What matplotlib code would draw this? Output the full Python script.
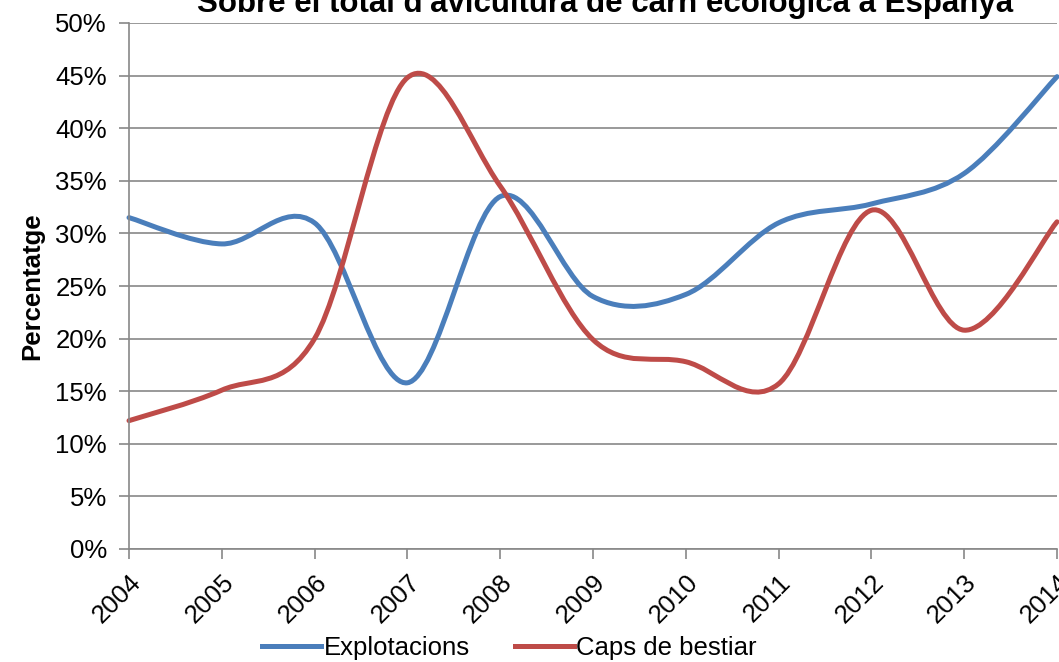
import numpy as np
import matplotlib.pyplot as plt
from matplotlib.path import Path
from matplotlib.patches import PathPatch
from matplotlib.lines import Line2D
from matplotlib.transforms import ScaledTranslation

plt.rcParams['font.family'] = ['Liberation Sans', 'DejaVu Sans']

anys = [2004, 2005, 2006, 2007, 2008, 2009, 2010, 2011, 2012, 2013, 2014]
explotacions = [31.5, 29.0, 31.0, 15.8, 33.5, 24.0, 24.2, 31.0, 32.8, 35.7, 44.9]
caps_bestiar = [12.2, 15.1, 20.0, 44.8, 34.5, 19.9, 17.8, 15.7, 32.2, 20.8, 31.1]

titol = "Sobre el total d'avicultura de carn ecològica a Espanya"


# corba suavitzada a l'estil Excel (Catmull-Rom com a Bezier)
def corba_suau(x, y):
    p = np.column_stack([x, y]).astype(float)
    n = len(p)
    verts = [p[0]]
    codes = [Path.MOVETO]
    for i in range(n - 1):
        p0 = p[i - 1] if i > 0 else p[i]
        p1 = p[i]
        p2 = p[i + 1]
        p3 = p[i + 2] if i + 2 < n else p[i + 1]
        c1 = p1 + (p2 - p0) / 6.0
        c2 = p2 - (p3 - p1) / 6.0
        verts += [c1, c2, p2]
        codes += [Path.CURVE4] * 3
    return Path(verts, codes)


fig = plt.figure(figsize=(10.59, 6.62), dpi=100)
ax = fig.add_axes([129 / 1059, 1 - 549 / 662, (1057 - 129) / 1059, (549 - 23) / 662])

blau = '#4a7ebb'
vermell = '#be4b48'
for serie, color in [(explotacions, blau), (caps_bestiar, vermell)]:
    ax.add_patch(PathPatch(corba_suau(anys, serie), facecolor='none',
                           edgecolor=color, lw=3.6, capstyle='round', clip_on=False))

fs = 18.5
ax.set_xlim(2004, 2014)
ax.set_ylim(0, 50)
ax.set_yticks(np.arange(0, 51, 5))
ax.set_yticklabels([f'{v}%' for v in range(0, 51, 5)], fontsize=fs)
ax.set_xticks(anys)
ax.set_xticklabels([str(a) for a in anys], fontsize=fs, rotation=45,
                   ha='right', va='top', rotation_mode='anchor')
desplac = ScaledTranslation(-5 / 100, 0, fig.dpi_scale_trans)
for lbl in ax.get_xticklabels():
    lbl.set_transform(lbl.get_transform() + desplac)
ax.grid(axis='y', color='#888888', lw=1.2)
ax.set_axisbelow(True)
for s in ['top', 'right']:
    ax.spines[s].set_visible(False)
for s in ['left', 'bottom']:
    ax.spines[s].set_color('#888888')
    ax.spines[s].set_linewidth(1.2)
ax.tick_params(axis='both', colors='#888888', labelcolor='black', length=7, width=1.2)
ax.tick_params(axis='y', pad=9)
ax.tick_params(axis='x', pad=8)

ax.set_ylabel('Percentatge', fontsize=fs, fontweight='bold', labelpad=8)
fig.text(605 / 1059, 1 - 12 / 662, titol, ha='center', va='baseline',
         fontsize=22.5, fontweight='bold')

handles = [Line2D([], [], color=blau, lw=3.6), Line2D([], [], color=vermell, lw=3.6)]
fig.legend(handles, ['Explotacions', 'Caps de bestiar'], loc='center',
           bbox_to_anchor=(0.481, 1 - 648 / 662), ncol=2, frameon=False, fontsize=fs,
           handlelength=2.3, handletextpad=0.1, columnspacing=1.75)

fig.savefig('out.png', dpi=100)
